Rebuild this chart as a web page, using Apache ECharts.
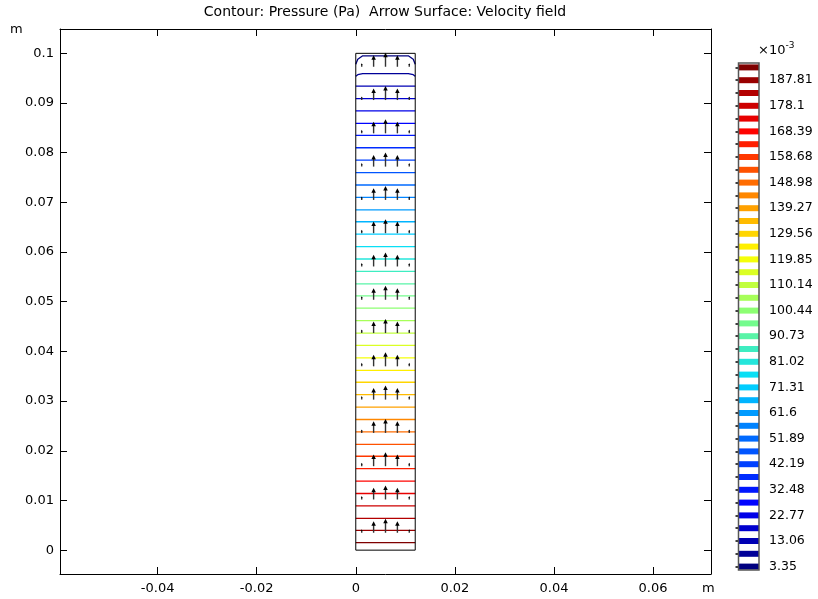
<!DOCTYPE html>
<html>
<head>
<meta charset="utf-8">
<title>Contour: Pressure</title>
<script src="https://cdn.jsdelivr.net/npm/echarts@6/dist/echarts.min.js"></script>
<style>
	html, body { margin: 0; padding: 0; background: #fff; }
	#main { width: 818px; height: 599px; }
</style>
</head>
<body>
<div id="main"></div>
<script>
// contour levels, x10^-3 Pa (low -> high)
var levels = [3.35, 8.2, 13.06, 17.91, 22.77, 27.62, 32.48, 37.33, 42.19, 47.04,
	51.89, 56.75, 61.6, 66.46, 71.31, 76.17, 81.02, 85.88, 90.73, 95.58,
	100.44, 105.29, 110.14, 115.0, 119.85, 124.71, 129.56, 134.41, 139.27, 144.12,
	148.98, 153.83, 158.68, 163.54, 168.39, 173.25, 178.1, 182.96, 187.81, 192.66];
// height (m) of each contour line in the channel middle, same order as levels
var contourY = [0.0995, 0.0959, 0.0934, 0.0909, 0.0884, 0.0859, 0.0835, 0.0810, 0.0785, 0.0760,
	0.0735, 0.0710, 0.0685, 0.0661, 0.0636, 0.0611, 0.0586, 0.0561, 0.0536, 0.0512,
	0.0487, 0.0462, 0.0437, 0.0412, 0.0387, 0.0362, 0.0338, 0.0313, 0.0288, 0.0263,
	0.0238, 0.0213, 0.0189, 0.0164, 0.0139, 0.0114, 0.0089, 0.0064, 0.0040, 0.0015];
// height (m) at the walls for the first levels (outlet bends); others are straight
var wallY = [0.0978, 0.0954];

// channel outline (m)
var channel = [[0, 0], [0.012, 0], [0.012, 0.1], [0, 0.1], [0, 0]];

// arrow grid and relative velocity per column
var arrowX = [0.0012, 0.0036, 0.006, 0.0084, 0.0108];
var arrowRowY = [0.0035, 0.0102, 0.0169, 0.0236, 0.0303, 0.0370, 0.0437, 0.0504,
	0.0571, 0.0638, 0.0705, 0.0772, 0.0839, 0.0906, 0.0973];
var arrowSpeed = [0.25, 0.83, 1.0, 0.83, 0.25];

// axis ticks
var xTicks = [-0.04, -0.02, 0, 0.02, 0.04, 0.06];
var yTicks = [0, 0.01, 0.02, 0.03, 0.04, 0.05, 0.06, 0.07, 0.08, 0.09, 0.1];

var rainbow = ['#00007f', '#0000ff', '#0064ff', '#00dcff', '#80ff80',
	'#ffff00', '#ff8000', '#ff0000', '#7f0000'];

var FONT = 'DejaVu Sans';
var myChart = echarts.init(document.getElementById('main'));

// series data
var contourData = [];
for (var i = 0; i < levels.length; i++) {
	var yw = i < wallY.length ? wallY[i] : contourY[i];
	contourData.push([levels[i], contourY[i], yw]);
}
var arrowData = [];
for (var r = 0; r < arrowRowY.length; r++) {
	for (var c = 0; c < arrowX.length; c++) {
		arrowData.push([arrowX[c], arrowRowY[r], arrowSpeed[c]]);
	}
}
var barData = [];
for (var j = 0; j < levels.length; j++) {
	barData.push([levels[j], j]);
}
var chW = channel[1][0];

function fmtTick(v) {
	return String(+(+v).toFixed(2));
}

function renderContour(params, api) {
	var yMid = api.value(1), yWall = api.value(2);
	var d = yMid - yWall;
	var pts = [
		[0, yWall], [0.0004, yWall + d * 0.6], [0.0014, yMid],
		[chW - 0.0014, yMid], [chW - 0.0004, yWall + d * 0.6], [chW, yWall]
	].map(function (p) { return api.coord(p); });
	return {
		type: 'polyline',
		shape: { points: pts },
		style: { stroke: api.visual('color'), lineWidth: 1.3, fill: null, lineJoin: 'round' }
	};
}

function renderArrow(params, api) {
	var base = api.coord([api.value(0), api.value(1)]);
	var len = api.value(2) * 14;
	var tip = base[1] - len;
	var head = Math.min(4.5, len * 0.5);
	var hw = head * 0.5;
	return {
		type: 'group',
		children: [
			{ type: 'line', shape: { x1: base[0], y1: base[1], x2: base[0], y2: tip + head * 0.6 },
				style: { stroke: '#333', lineWidth: 1.4 } },
			{ type: 'polygon', shape: { points: [[base[0], tip], [base[0] - hw, tip + head], [base[0] + hw, tip + head]] },
				style: { fill: '#000' } }
		]
	};
}

function renderStripe(params, api) {
	var a = api.coord([0, api.value(1)]);
	var b = api.coord([1, api.value(1)]);
	return {
		type: 'rect',
		shape: { x: a[0], y: a[1] - 3, width: b[0] - a[0], height: 6 },
		style: { fill: api.visual('color') }
	};
}

var mainAxisX = {
	type: 'value', gridIndex: 0, min: -0.0597, max: 0.0717,
	axisLine: { show: true, onZero: false, lineStyle: { color: '#000', width: 1 } },
	axisTick: { show: true, inside: true, length: 7, customValues: xTicks, lineStyle: { color: '#000' } },
	axisLabel: { customValues: xTicks, formatter: fmtTick, margin: 8, color: '#000', fontFamily: FONT, fontSize: 13 },
	splitLine: { show: false }
};
var mainAxisY = {
	type: 'value', gridIndex: 0, min: -0.0048, max: 0.1049,
	axisLine: { show: true, onZero: false, lineStyle: { color: '#000', width: 1 } },
	axisTick: { show: true, inside: true, length: 7, customValues: yTicks, lineStyle: { color: '#000' } },
	axisLabel: { customValues: yTicks, formatter: fmtTick, margin: 6, color: '#000', fontFamily: FONT, fontSize: 13 },
	splitLine: { show: false }
};
var levelNames = levels.map(function (v) { return String(v); });

var option = {
	animation: false,
	backgroundColor: '#fff',
	grid: [
		{ left: 60, top: 29, width: 651, height: 545 },
		{ left: 738.5, top: 61, width: 20.5, height: 512 }
	],
	xAxis: [
		mainAxisX,
		echarts.util.merge(echarts.util.clone(mainAxisX), { position: 'top', axisLabel: { show: false } }),
		{ type: 'value', gridIndex: 1, min: 0, max: 1, show: false }
	],
	yAxis: [
		mainAxisY,
		echarts.util.merge(echarts.util.clone(mainAxisY), { position: 'right', axisLabel: { show: false } }),
		{
			type: 'category', gridIndex: 1, data: levelNames, position: 'right',
			axisLine: { show: false },
			axisTick: { show: true, inside: true, length: 3, interval: 0, alignWithLabel: true, lineStyle: { color: '#000', width: 1.5 } },
			axisLabel: { interval: 1, margin: 10, color: '#000', fontFamily: FONT, fontSize: 12.5 },
			splitLine: { show: false }
		},
		{
			type: 'category', gridIndex: 1, data: levelNames, position: 'left',
			axisLine: { show: false },
			axisTick: { show: true, inside: true, length: 3, interval: 0, alignWithLabel: true, lineStyle: { color: '#000', width: 1.5 } },
			axisLabel: { show: false },
			splitLine: { show: false }
		}
	],
	visualMap: {
		type: 'continuous', show: false,
		min: levels[0], max: levels[levels.length - 1],
		dimension: 0, seriesIndex: [0, 3],
		inRange: { color: rainbow }
	},
	series: [
		{ type: 'custom', name: 'contour', xAxisIndex: 0, yAxisIndex: 0, renderItem: renderContour, data: contourData, z: 2 },
		{ type: 'custom', name: 'velocity', xAxisIndex: 0, yAxisIndex: 0, renderItem: renderArrow, data: arrowData, z: 3 },
		{ type: 'line', name: 'channel', xAxisIndex: 0, yAxisIndex: 0, data: channel, showSymbol: false,
			lineStyle: { color: '#000', width: 1 }, z: 4 },
		{ type: 'custom', name: 'colorbar', xAxisIndex: 2, yAxisIndex: 2, renderItem: renderStripe, data: barData, z: 2 }
	],
	graphic: [
		{ type: 'text', x: 385, y: 5, style: { text: 'Contour: Pressure (Pa)  Arrow Surface: Velocity field',
			fill: '#000', font: '14px "DejaVu Sans"', textAlign: 'center' } },
		{ type: 'text', x: 10, y: 23, style: { text: 'm', fill: '#000', font: '13px "DejaVu Sans"' } },
		{ type: 'text', x: 702, y: 582, style: { text: 'm', fill: '#000', font: '13px "DejaVu Sans"' } },
		{ type: 'text', x: 758, y: 41, style: { text: '{a|×10}{b|-3}', fill: '#000',
			rich: { a: { fontFamily: FONT, fontSize: 13, verticalAlign: 'bottom' }, b: { fontFamily: FONT, fontSize: 9, verticalAlign: 'top', padding: [0, 0, 7, 0] } } } },
		{ type: 'rect', shape: { x: 738.5, y: 63, width: 20.5, height: 507 },
			style: { fill: null, stroke: '#555', lineWidth: 1.5 }, z: 10 }
	]
};

myChart.setOption(option);
</script>
</body>
</html>
